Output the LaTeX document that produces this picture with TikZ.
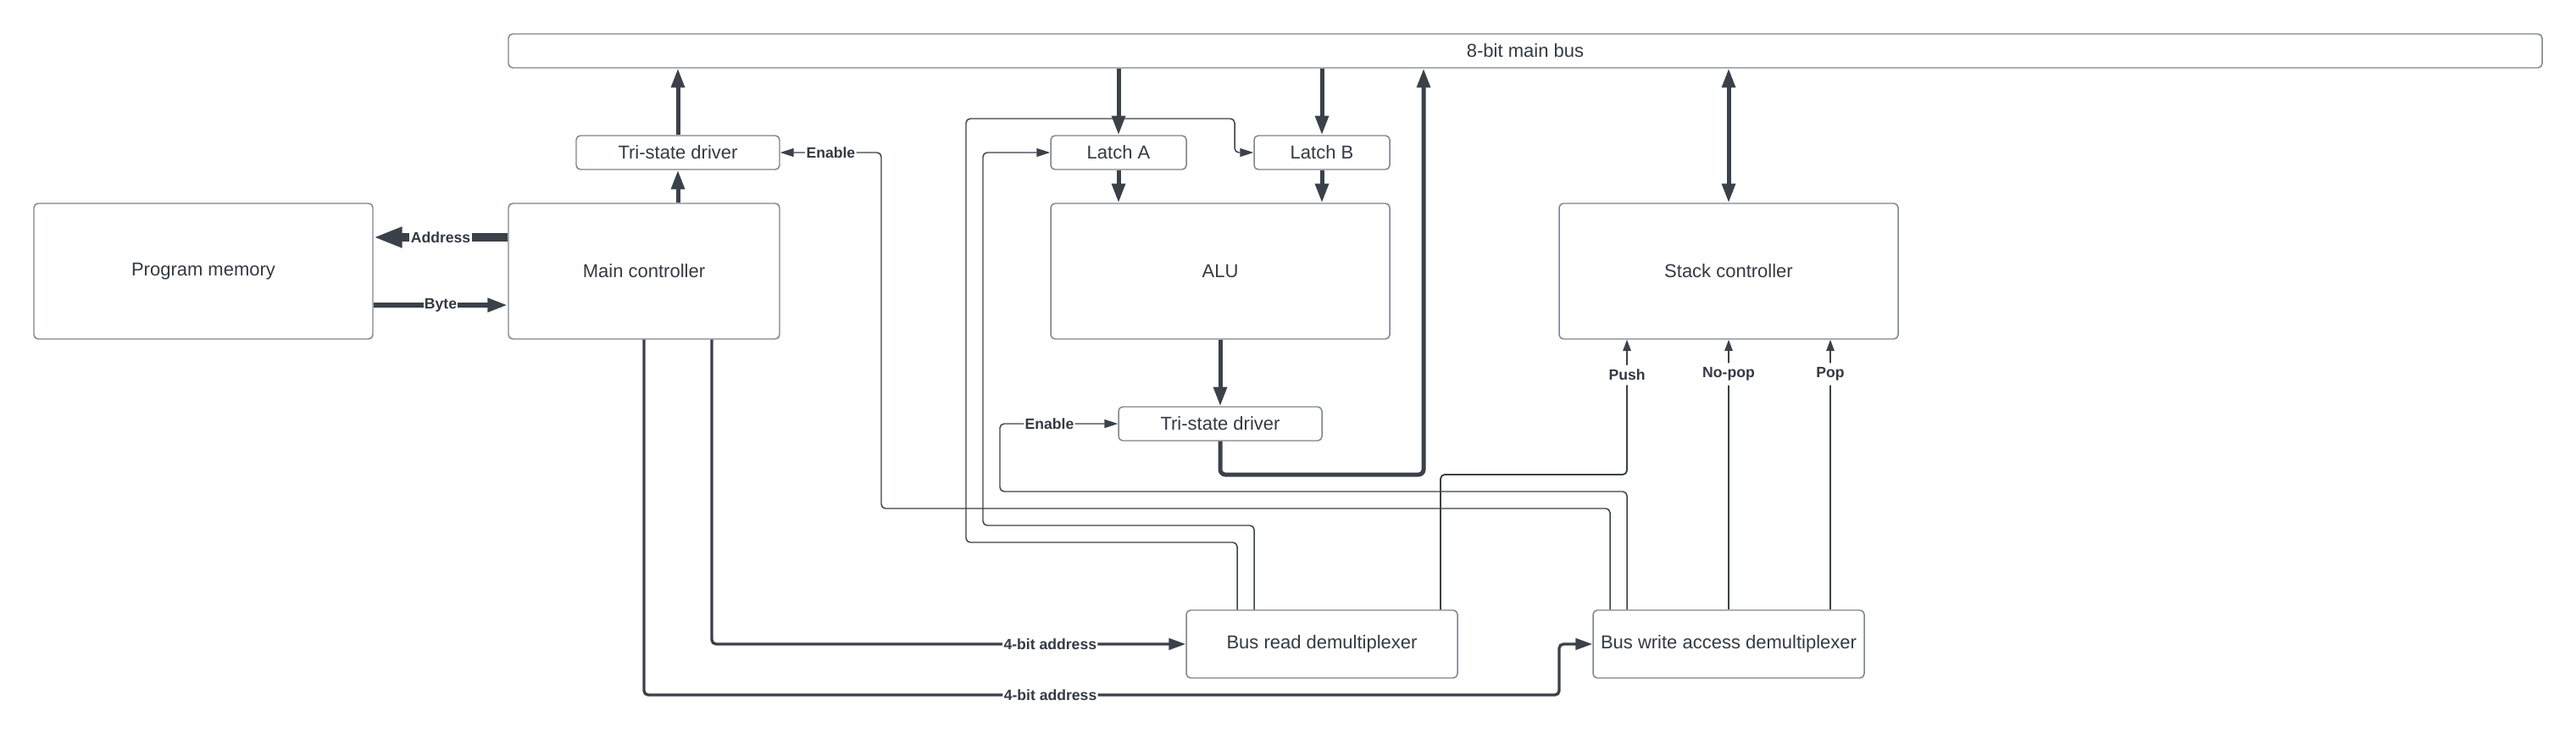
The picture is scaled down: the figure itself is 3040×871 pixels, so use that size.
\documentclass[tikz,border=0pt]{standalone}
\usepackage{fontspec}
\setmainfont{Liberation Sans}
\usetikzlibrary{arrows.meta,calc}
\definecolor{ln}{HTML}{3A414A}
\definecolor{bd}{HTML}{7E848C}
\definecolor{tx}{HTML}{333A44}
\begin{document}
\begin{tikzpicture}[x=0.75pt,y=-0.75pt,
  box/.style={draw=bd, line width=1.1pt, rounded corners=3.75pt, fill=white, inner sep=0pt, text=tx, font=\fontsize{16.5}{20}\selectfont, anchor=center},
  lbl/.style={fill=white, text=tx, inner xsep=1pt, inner ysep=4pt, font=\bfseries\fontsize{13.2}{15}\selectfont},
  busarrow/.style={draw=ln, line width=3.75pt, -{Triangle[length=17pt,width=11.5pt]}},
  midarrow/.style={draw=ln, line width=2.5pt, rounded corners=3.75pt, -{Triangle[length=15pt,width=10pt]}},
  ctlarrow/.style={draw=ln, line width=1.1pt, rounded corners=3.75pt, -{Triangle[length=12pt,width=7.5pt]}},
  sigarrow/.style={draw=ln, line width=1.4pt, rounded corners=3.75pt, -{Triangle[length=10pt,width=7pt]}},
]
\useasboundingbox (0,0) rectangle (3040,871);

% nodes
\node[box, minimum width=1800pt, minimum height=30pt] (bus) at (1800,60) {8-bit main bus};
\node[box, minimum width=300pt, minimum height=120pt] (pm) at (240,320) {Program memory};
\node[box, minimum width=240pt, minimum height=120pt] (mc) at (760,320) {Main controller};
\node[box, minimum width=180pt, minimum height=30pt] (ts1) at (800,180) {Tri-state driver};
\node[box, minimum width=120pt, minimum height=30pt] (la) at (1320,180) {Latch A};
\node[box, minimum width=120pt, minimum height=30pt] (lb) at (1560,180) {Latch B};
\node[box, minimum width=300pt, minimum height=120pt] (alu) at (1440,320) {ALU};
\node[box, minimum width=180pt, minimum height=30pt] (ts2) at (1440,500) {Tri-state driver};
\node[box, minimum width=300pt, minimum height=120pt] (sc) at (2040,320) {Stack controller};
\node[box, minimum width=240pt, minimum height=60pt] (brd) at (1560,760) {Bus read demultiplexer};
\node[box, minimum width=240pt, minimum height=60pt] (bwd) at (2040,760) {Bus write access demultiplexer};

% bend coordinates
\coordinate (ad) at (520,280);
\coordinate (by) at (520,360);
\coordinate (t2r) at (1680,560);
\coordinate (e1a) at (1900,600);
\coordinate (e1b) at (1040,180);
\coordinate (e2a) at (1920,580);
\coordinate (e2b) at (1180,500);
\coordinate (la1) at (1480,620);
\coordinate (la2) at (1160,180);
\coordinate (lb1) at (1460,640);
\coordinate (lb2) at (1140,140);
\coordinate (lb3) at (1457,180);
\coordinate (a1) at (840,760);
\coordinate (a2) at (760,820);
\coordinate (a3) at (1840,820);
\coordinate (p1) at (1700,560);
\coordinate (p2) at (1920,560);
\coordinate (pp) at (2160,560);

% bus connections
\draw[busarrow] (ts1.north) -- (bus.south -| ts1.north);
\draw[busarrow] (mc.north -| ts1.south) -- (ts1.south);
\draw[busarrow] (bus.south -| la.north) -- (la.north);
\draw[busarrow] (bus.south -| lb.north) -- (lb.north);
\draw[busarrow] (la.south) -- (alu.north -| la.south);
\draw[busarrow] (lb.south) -- (alu.north -| lb.south);
\draw[busarrow] (alu.south) -- (ts2.north);
\draw[busarrow, rounded corners=4.5pt] (ts2.south) |- (t2r) -- (bus.south -| t2r);
\draw[busarrow, {Triangle[length=17pt,width=11.5pt]}-{Triangle[length=17pt,width=11.5pt]}] (bus.south -| sc.north) -- (sc.north);

% program memory
\draw[draw=ln, line width=7.5pt, -{Triangle[length=25.5pt,width=17pt]}] (mc.west |- ad) -- node[lbl]{Address} (pm.east |- ad);
\draw[draw=ln, line width=4.5pt, -{Triangle[length=18pt,width=11.5pt]}] (pm.east |- by) -- node[lbl]{Byte} (mc.west |- by);

% addresses
\draw[midarrow] (mc.south -| a1) -- (a1) -- node[lbl,pos=0.714]{4-bit address} (brd.west);
\draw[midarrow] (mc.south) -- (a2) -- node[lbl,pos=0.444]{4-bit address} (a3) |- (bwd.west);

% enables
\draw[ctlarrow] (bwd.north -| e1a) -- (e1a) -| (e1b) -- node[lbl]{Enable} (ts1.east);
\draw[ctlarrow] (bwd.north -| e2a) -- (e2a) -| (e2b) -- node[lbl,pos=0.42]{Enable} (ts2.west);
\draw[ctlarrow] (brd.north -| la1) -- (la1) -| (la2) -- (la.west);
\draw[ctlarrow] (brd.north -| lb1) -- (lb1) -| (lb2) -| (lb3) -- (lb.west);

% stack signals
\draw[sigarrow] (brd.north -| p1) -- (p1) -- (p2) -- node[lbl,pos=0.7375]{Push} (sc.south -| p2);
\draw[sigarrow] (bwd.north) -- node[lbl,pos=0.872]{No-pop} (sc.south);
\draw[sigarrow] (bwd.north -| pp) -- node[lbl,pos=0.872]{Pop} (sc.south -| pp);
\end{tikzpicture}
\end{document}
